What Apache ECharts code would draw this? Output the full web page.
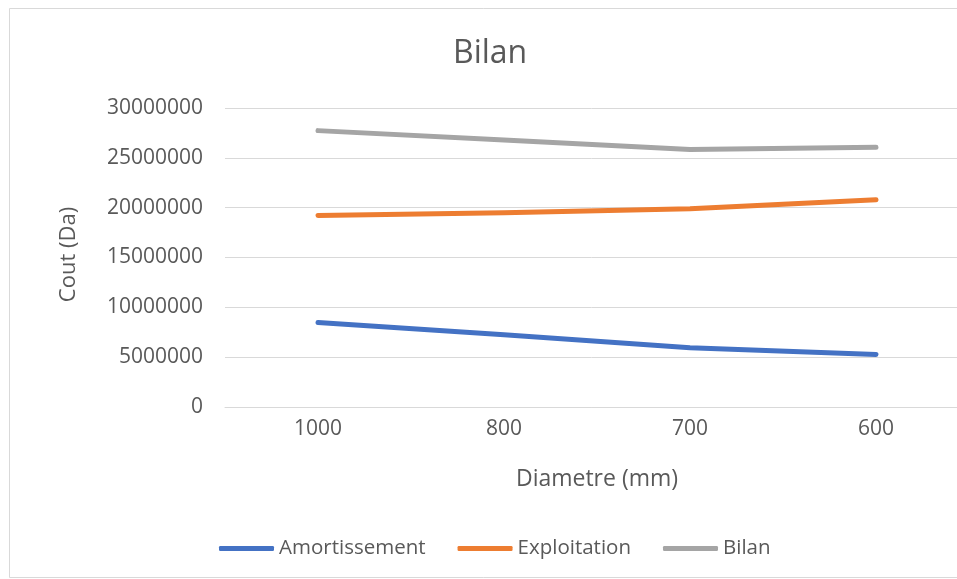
<!DOCTYPE html>
<html>
<head>
<meta charset="utf-8">
<script src="https://cdn.jsdelivr.net/npm/echarts@6/dist/echarts.min.js"></script>
<style>
html,body{margin:0;padding:0;background:#fff;}
#chart{width:957px;height:579px;}
</style>
</head>
<body>
<div id="chart"></div>
<script>
const categories = ['1000', '800', '700', '600'];
const amortissement = [8480000, 7260000, 5950000, 5270000];
const exploitation = [19220000, 19480000, 19900000, 20800000];
const bilan = [27730000, 26780000, 25840000, 26070000];
const yTicks = { min: 0, max: 30000000, interval: 5000000 };

const FONT = 'Open Sans';
const TXT = '#595959';

const chart = echarts.init(document.getElementById('chart'), null, { renderer: 'canvas' });
chart.setOption({
  backgroundColor: '#ffffff',
  animation: false,
  graphic: [{
    type: 'rect',
    shape: { x: 9.5, y: 8.5, width: 1000, height: 569 },
    style: { fill: 'none', stroke: '#D9D9D9', lineWidth: 1 },
    silent: true
  }],
  title: {
    text: 'Bilan',
    left: 448, top: 33,
    textStyle: { fontFamily: FONT, fontSize: 32, fontWeight: 'normal', color: TXT }
  },
  legend: {
    left: 214, top: 533,
    icon: 'roundRect',
    itemWidth: 55, itemHeight: 5, itemGap: 32,
    textStyle: { fontFamily: FONT, fontSize: 20.5, color: TXT },
    data: ['Amortissement', 'Exploitation', 'Bilan']
  },
  grid: { left: 225, top: 108, width: 744, height: 299, outerBoundsMode: 'none', containLabel: false },
  xAxis: {
    type: 'category',
    data: categories,
    boundaryGap: true,
    name: 'Diametre (mm)',
    nameLocation: 'middle',
    nameGap: 61,
    nameTextStyle: { fontFamily: FONT, fontSize: 23, color: TXT },
    axisLine: { show: true, lineStyle: { color: '#D9D9D9', width: 1 } },
    axisTick: { show: false },
    axisLabel: { fontFamily: FONT, fontSize: 21, color: TXT, margin: 12 }
  },
  yAxis: {
    type: 'value',
    min: yTicks.min, max: yTicks.max, interval: yTicks.interval,
    name: 'Cout (Da)',
    nameLocation: 'middle',
    nameGap: 145,
    nameRotate: 90,
    nameTextStyle: { fontFamily: FONT, fontSize: 22, color: TXT, padding: [0, 0, 0, 6] },
    axisLine: { show: false },
    axisTick: { show: false },
    splitLine: { lineStyle: { color: '#D9D9D9', width: 1 } },
    axisLabel: { fontFamily: FONT, fontSize: 21, color: TXT, margin: 22, formatter: v => String(v) }
  },
  series: [
    { name: 'Amortissement', type: 'line', data: amortissement, symbol: 'none',
      lineStyle: { color: '#4472C4', width: 5, cap: 'round', join: 'round' }, itemStyle: { color: '#4472C4' } },
    { name: 'Exploitation', type: 'line', data: exploitation, symbol: 'none',
      lineStyle: { color: '#ED7D31', width: 5, cap: 'round', join: 'round' }, itemStyle: { color: '#ED7D31' } },
    { name: 'Bilan', type: 'line', data: bilan, symbol: 'none',
      lineStyle: { color: '#A5A5A5', width: 5, cap: 'round', join: 'round' }, itemStyle: { color: '#A5A5A5' } }
  ]
});
</script>
</body>
</html>
